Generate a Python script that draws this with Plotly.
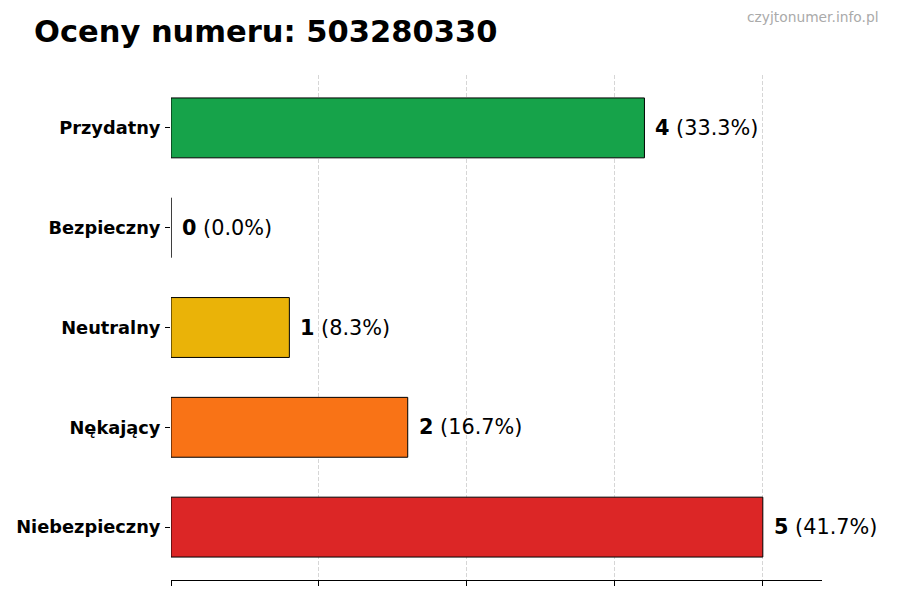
import plotly.graph_objects as go

# dane
kategorie = ["Niebezpieczny", "Nękający", "Neutralny", "Bezpieczny", "Przydatny"]
liczby = [5, 2, 1, 0, 4]
kolory = ["#dc2626", "#f97316", "#eab308", "#22c55e", "#16a34a"]
numer = "503280330"

suma = sum(liczby)
procenty = [100 * v / suma for v in liczby]

# strona ma 8px marginesu body, więc figura jest o 8px mniejsza i przesunięta
W, H = 892, 592
L, T = 163, 67
PW, PH = 651, 505

fig = go.Figure()

fig.add_trace(go.Bar(
    x=liczby,
    y=kategorie,
    orientation="h",
    width=0.6,
    marker=dict(color=kolory, line=dict(color="black", width=1)),
    hoverinfo="skip",
))

# etykiety wartości przy słupkach
for kat, v, p in zip(kategorie, liczby, procenty):
    fig.add_annotation(
        x=v, y=kat,
        text=f"<b>{v}</b> ({p:.1f}%)",
        showarrow=False,
        xanchor="left",
        xshift=9,
        font=dict(size=20.8, color="black", family="DejaVu Sans"),
    )

fig.update_layout(
    width=W,
    height=H,
    margin=dict(l=L, r=W - L - PW, t=T, b=H - T - PH, autoexpand=False),
    paper_bgcolor="white",
    plot_bgcolor="white",
    showlegend=False,
    font=dict(family="DejaVu Sans", color="black"),
    title=dict(
        text=f"<b>Oceny numeru: {numer}</b>",
        x=26 / W, xanchor="left",
        y=1 - 23 / H, yanchor="middle",
        font=dict(size=30.5, color="black"),
    ),
)

fig.add_annotation(
    xref="paper", yref="paper",
    x=(873 - L) / PW, y=1 + (T - 9) / PH,
    text="czyjtonumer.info.pl",
    showarrow=False,
    xanchor="right", yanchor="middle",
    font=dict(size=13.8, color="#aaaaaa"),
)

fig.update_xaxes(
    range=[0, 5.5],
    tick0=0, dtick=1.25,
    showticklabels=False,
    ticks="outside", ticklen=5, tickcolor="black",
    showgrid=True, gridcolor="#d6d6d6", griddash="4px,2px", gridwidth=1,
    showline=True, linecolor="black", linewidth=1,
    zeroline=False,
    automargin=False,
    layer="above traces",
)

fig.update_yaxes(
    range=[-0.53, 4.53],
    ticks="outside", ticklen=5, tickcolor="black",
    ticklabelstandoff=1,
    tickfont=dict(size=17.8, color="black", family="DejaVu Sans", weight="bold"),
    showgrid=False,
    showline=False,
    zeroline=False,
    automargin=False,
)

fig.write_html("out.html")
